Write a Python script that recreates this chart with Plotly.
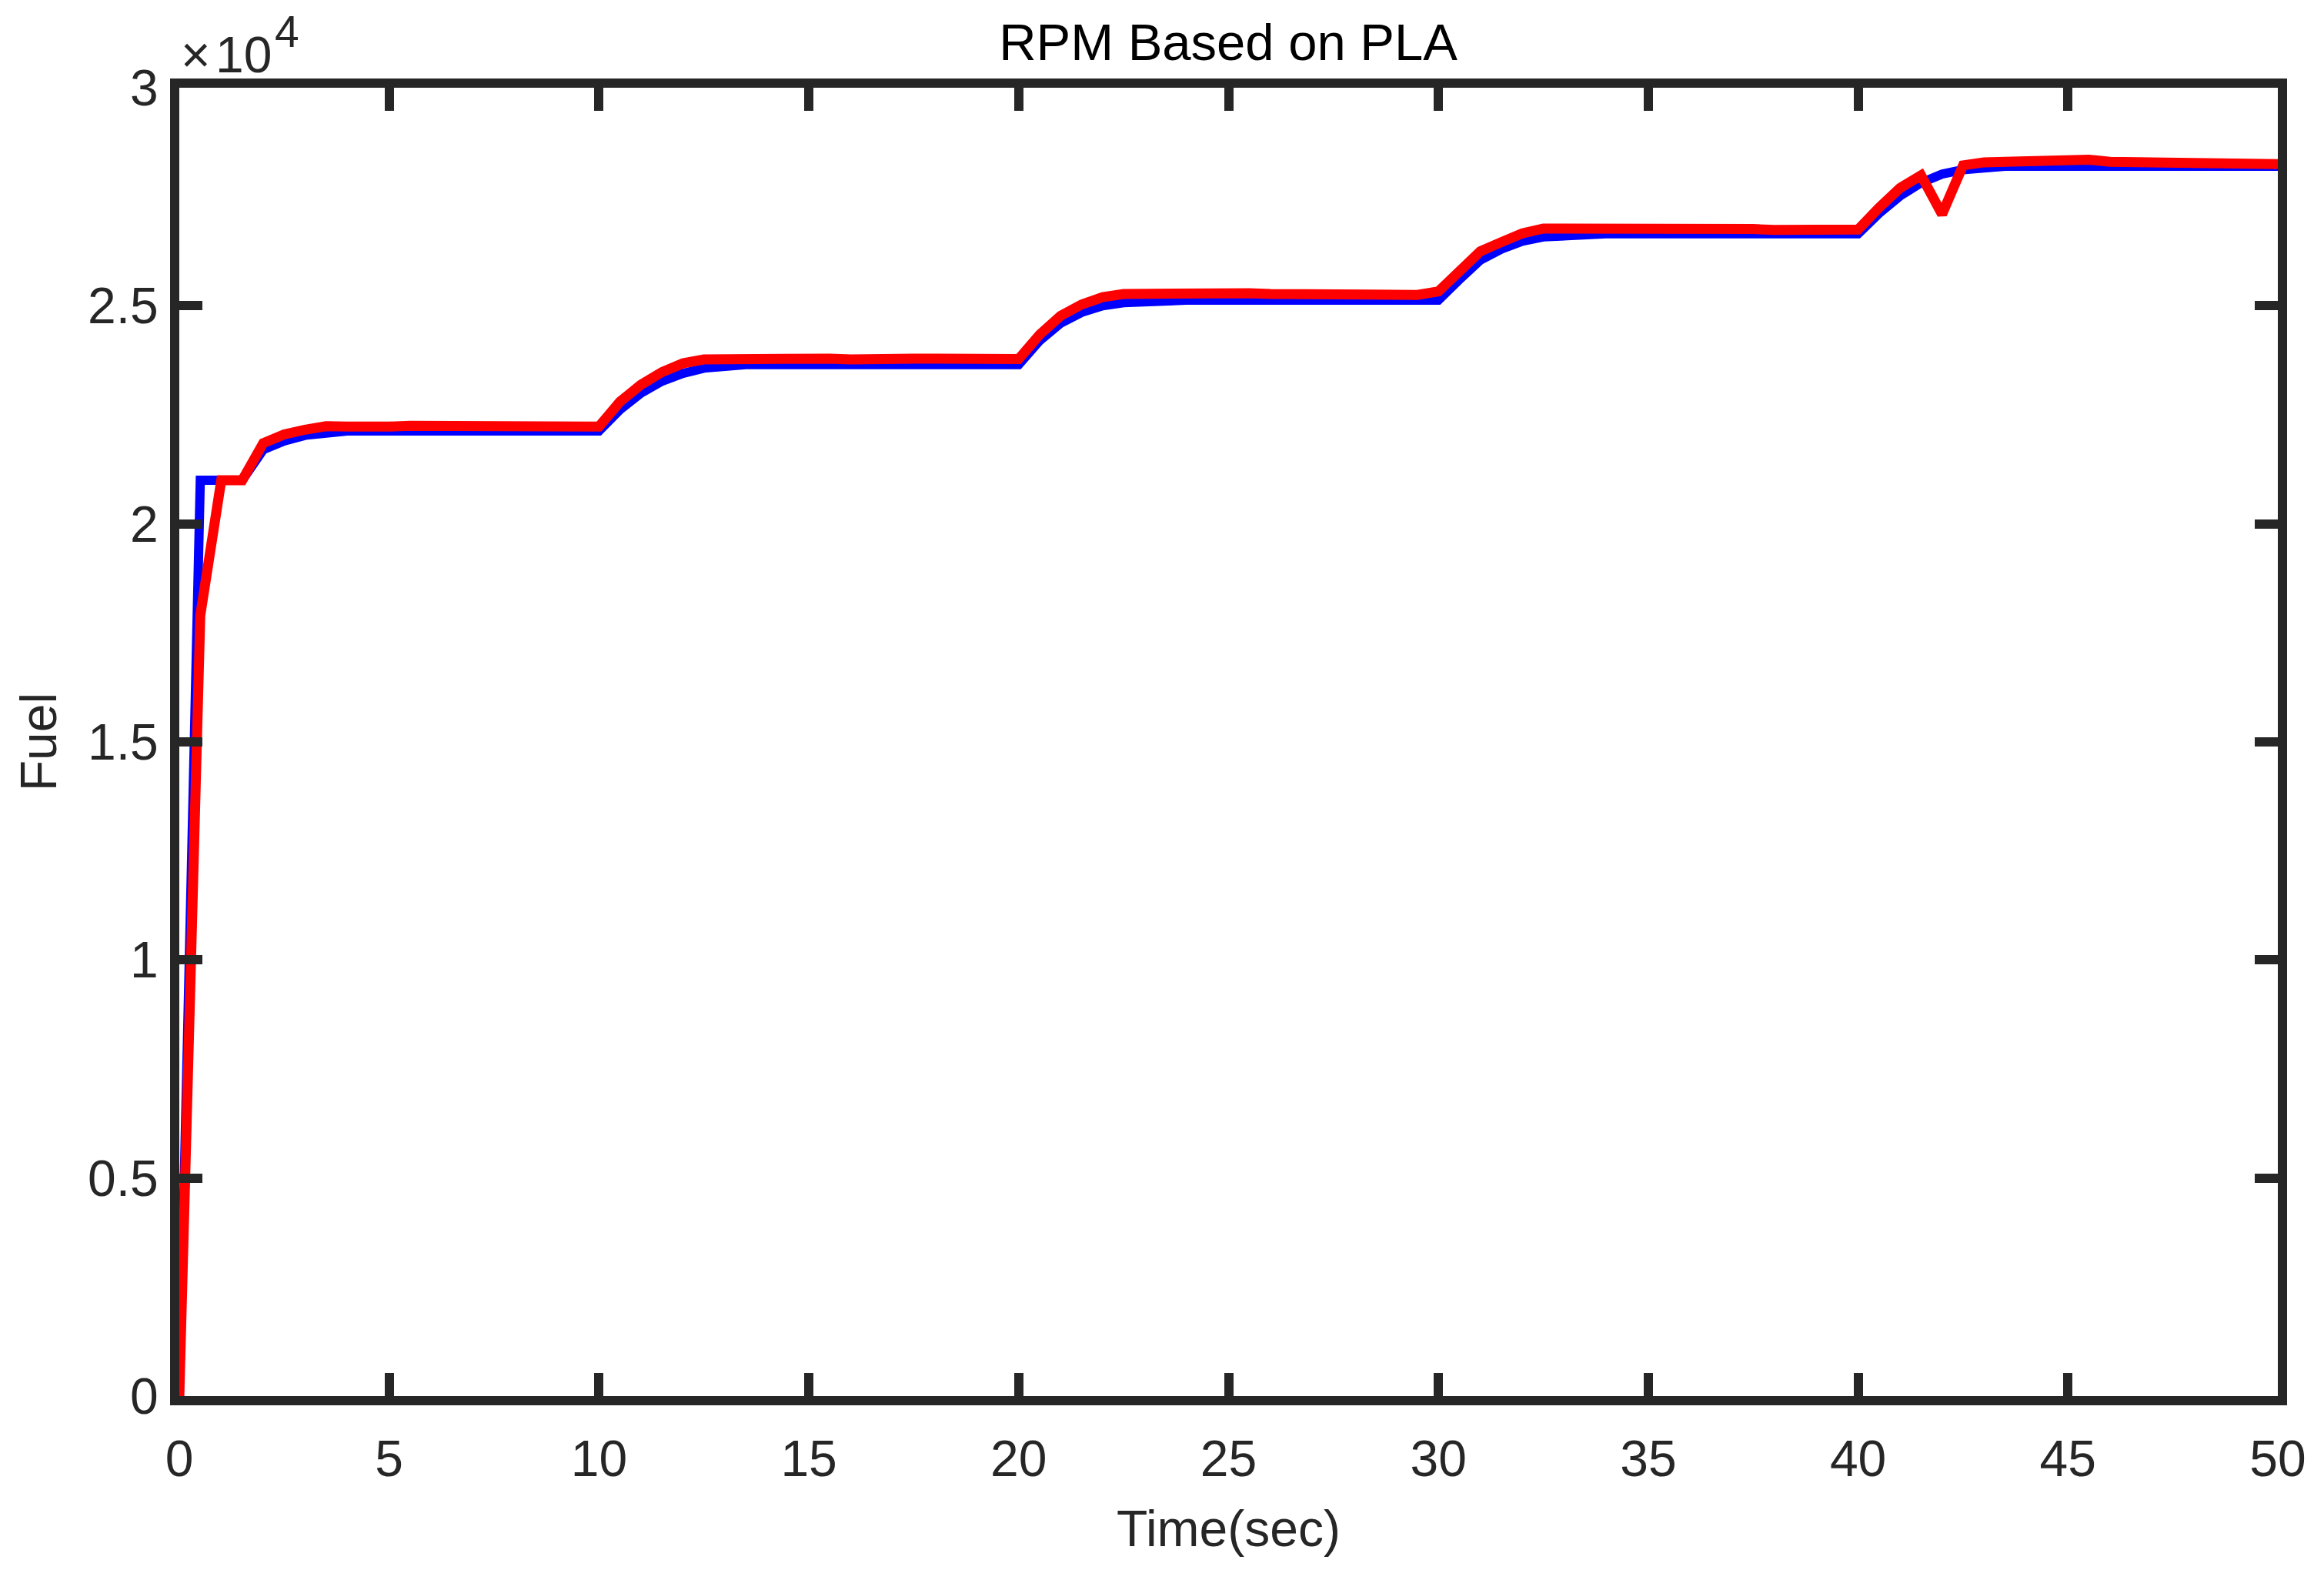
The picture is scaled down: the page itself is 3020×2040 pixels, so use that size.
import plotly.graph_objects as go

time_sec = [0.0, 0.5, 1.0, 1.5, 2.0, 2.5, 3.0, 3.5, 4.0, 4.5,
            5.0, 5.5, 6.0, 6.5, 7.0, 7.5, 8.0, 8.5, 9.0, 9.5,
            10.0, 10.5, 11.0, 11.5, 12.0, 12.5, 13.0, 13.5, 14.0, 14.5,
            15.0, 15.5, 16.0, 16.5, 17.0, 17.5, 18.0, 18.5, 19.0, 19.5,
            20.0, 20.5, 21.0, 21.5, 22.0, 22.5, 23.0, 23.5, 24.0, 24.5,
            25.0, 25.5, 26.0, 26.5, 27.0, 27.5, 28.0, 28.5, 29.0, 29.5,
            30.0, 30.5, 31.0, 31.5, 32.0, 32.5, 33.0, 33.5, 34.0, 34.5,
            35.0, 35.5, 36.0, 36.5, 37.0, 37.5, 38.0, 38.5, 39.0, 39.5,
            40.0, 40.5, 41.0, 41.5, 42.0, 42.5, 43.0, 43.5, 44.0, 44.5,
            45.0, 45.5, 46.0, 46.5, 47.0, 47.5, 48.0, 48.5, 49.0, 49.5,
            50.0]

blue_rpm = [0, 21000, 21000, 21000, 21700, 21900, 22030, 22100,
            22130, 22130, 22130, 22130, 22130, 22130, 22130, 22130, 22130, 22130, 22130, 22130, 22130,
            22620, 23000, 23270, 23450, 23570, 23620,
            23650, 23650, 23650, 23650, 23650, 23650, 23650, 23650, 23650, 23650, 23650, 23650, 23650, 23650,
            24200, 24600, 24850, 25000, 25070, 25100,
            25130, 25130, 25130, 25130, 25130, 25130, 25130, 25130, 25130, 25130, 25130, 25130, 25130, 25130,
            25600, 26050, 26300, 26480, 26580, 26620,
            26650, 26650, 26650, 26650, 26650, 26650, 26650, 26650, 26650, 26650, 26650, 26650, 26650, 26650,
            27120, 27520, 27820, 28020, 28120, 28170,
            28200, 28200, 28200, 28200, 28200, 28200, 28200, 28200, 28200, 28200, 28200, 28200, 28200, 28200]

red_rpm = [0, 17900, 21000, 21000, 21850, 22050, 22160, 22240,
           22230, 22210, 22230, 22250, 22250, 22240, 22230, 22230, 22230, 22250, 22240, 22230, 22230,
           22800, 23190, 23480, 23680, 23770, 23780,
           23790, 23810, 23800, 23790, 23790, 23770, 23790, 23790, 23790, 23790, 23790, 23800, 23800, 23780,
           24340, 24770, 25030, 25200, 25270, 25280,
           25290, 25300, 25310, 25320, 25290, 25270, 25270, 25270, 25270, 25270, 25270, 25260, 25250, 25330,
           25780, 26250, 26460, 26660, 26770, 26770,
           26760, 26770, 26780, 26790, 26800, 26800, 26760, 26760, 26760, 26740, 26740, 26750, 26750, 26750,
           27250, 27700, 27990, 27100, 28220, 28290,
           28300, 28310, 28330, 28360, 28350, 28300, 28290, 28290, 28290, 28280, 28280, 28270, 28260, 28250]

x_ticks = [0, 5, 10, 15, 20, 25, 30, 35, 40, 45, 50]
y_ticks = [0, 5000, 10000, 15000, 20000, 25000, 30000]
y_tick_labels = ["0", "0.5", "1", "1.5", "2", "2.5", "3"]

AX = "#262626"
FONT = "Liberation Sans, Arial, Helvetica, sans-serif"
FS = 66

fig = go.Figure()
fig.add_trace(go.Scatter(x=time_sec, y=blue_rpm, mode="lines",
                         line=dict(color="#0000FF", width=12), showlegend=False))
fig.add_trace(go.Scatter(x=time_sec, y=red_rpm, mode="lines",
                         line=dict(color="#FF0000", width=13), showlegend=False))

axis_common = dict(showline=True, linewidth=12, linecolor=AX, mirror="ticks",
                   ticks="inside", ticklen=30, tickwidth=12, tickcolor=AX,
                   showgrid=False, zeroline=False,
                   tickfont=dict(family=FONT, size=FS, color=AX))

fig.update_xaxes(range=[0, 50], tickvals=x_ticks, ticktext=[str(v) for v in x_ticks],
                 ticklabelstandoff=13,
                 title=dict(text="Time(sec)", font=dict(family=FONT, size=FS, color=AX), standoff=37),
                 **axis_common)
fig.update_yaxes(range=[0, 30000], tickvals=y_ticks, ticktext=y_tick_labels,
                 ticklabelstandoff=2,
                 title=dict(text="Fuel", font=dict(family=FONT, size=FS, color=AX), standoff=24),
                 **axis_common)

exp_font = dict(family=FONT, size=FS, color=AX)
fig.update_layout(
    width=3020, height=2040,
    margin=dict(l=233, r=60, t=114, b=226, pad=0),
    paper_bgcolor="white", plot_bgcolor="white",
    title=dict(text="RPM Based on PLA", x=0.5285, xanchor="center",
               y=1 - 55 / 2040, yanchor="middle", yref="container",
               font=dict(family=FONT, size=67, color="black")),
    annotations=[
        dict(text="×", xref="paper", yref="paper",
             x=0, y=1, xanchor="left", yanchor="bottom", xshift=0, yshift=4,
             showarrow=False, font=exp_font),
        dict(text="10", xref="paper", yref="paper",
             x=0, y=1, xanchor="left", yanchor="bottom", xshift=45, yshift=4,
             showarrow=False, font=exp_font),
        dict(text="4", xref="paper", yref="paper",
             x=0, y=1, xanchor="left", yanchor="bottom", xshift=122, yshift=39,
             showarrow=False, font=dict(family=FONT, size=57, color=AX)),
    ],
)

fig.write_html("out.html", config={"displayModeBar": False},
               post_script="document.body.style.margin='0px';")
